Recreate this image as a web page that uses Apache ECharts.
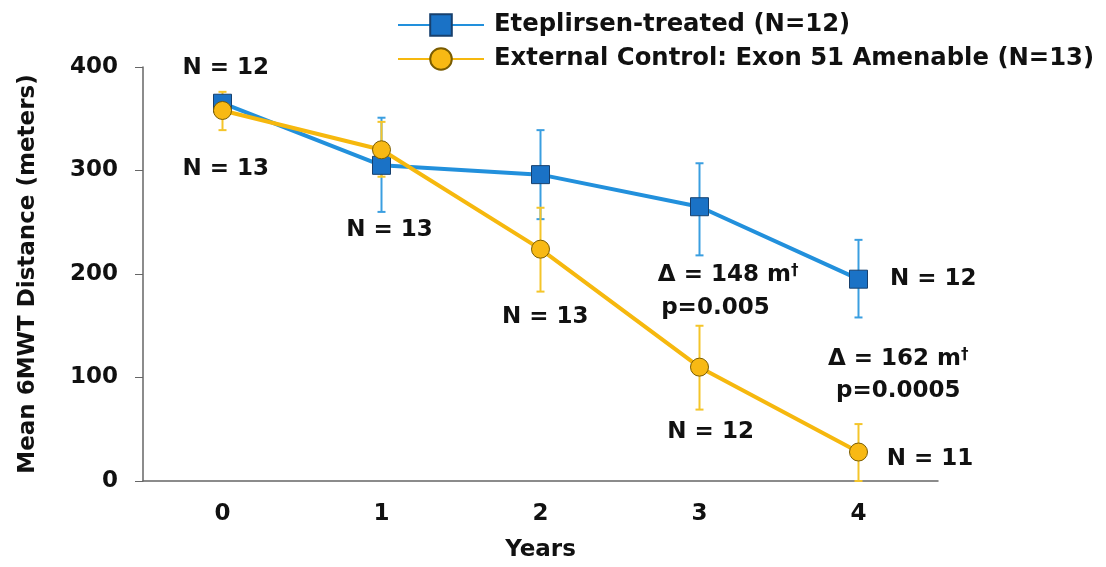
<!DOCTYPE html>
<html><head><meta charset="utf-8">
<script src="https://cdn.jsdelivr.net/npm/echarts@6/dist/echarts.min.js"></script>
<style>html,body{margin:0;padding:0;background:#fff}#c{width:1106px;height:567px}</style>
</head><body><div id="c"></div>
<script>
const years = ['0', '1', '2', '3', '4'];
const seriesNames = ['Eteplirsen-treated (N=12)', 'External Control: Exon 51 Amenable (N=13)'];
const eteMean = [365, 305, 296, 265, 195];
const eteUpper = [372, 351, 339, 307, 233];
const eteLower = [358, 260, 253, 218, 158];
const ctlMean = [358, 320, 224, 110, 28];
const ctlUpper = [376, 347, 264, 150, 55];
const ctlLower = [339, 294, 183, 69, 0];
const yTicks = [0, 100, 200, 300, 400];
// annotation text anchored in data coordinates [year, meters]
const annotations = [
  { x: 0.02, y: 399, text: 'N = 12' },
  { x: 0.02, y: 301, text: 'N = 13' },
  { x: 1.05, y: 242, text: 'N = 13' },
  { x: 2.03, y: 158, text: 'N = 13' },
  { x: 3.18, y: 199, text: '{a|Δ = 148 m}{s|†}' },
  { x: 3.10, y: 167, text: 'p=0.005' },
  { x: 3.07, y: 47, text: 'N = 12' },
  { x: 4.47, y: 195, text: 'N = 12' },
  { x: 4.25, y: 118, text: '{a|Δ = 162 m}{s|†}' },
  { x: 4.25, y: 87, text: 'p=0.0005' },
  { x: 4.45, y: 21, text: 'N = 11' }
];

const BLUE = '#2290dc', BLUE_FILL = '#1a72c6', BLUE_EDGE = '#17406e', BLUE_ERR = '#3a9ee0';
const YEL = '#f6b80e', YEL_FILL = '#f8b914', YEL_EDGE = '#7a5c00', YEL_ERR = '#f4c52a';
const FONT = '"DejaVu Sans", Verdana, sans-serif';
const TXT = '#111';

function errData(lo, hi) { return years.map((y, i) => [i, lo[i], hi[i]]); }
function errRender(color) {
  return function (params, api) {
    const x = api.value(0);
    const lo = api.coord([x, api.value(1)]);
    const hi = api.coord([x, api.value(2)]);
    const cw = 4;
    const st = { stroke: color, lineWidth: 2 };
    return { type: 'group', children: [
      { type: 'line', shape: { x1: lo[0], y1: lo[1], x2: hi[0], y2: hi[1] }, style: st },
      { type: 'line', shape: { x1: hi[0] - cw, y1: hi[1], x2: hi[0] + cw, y2: hi[1] }, style: st },
      { type: 'line', shape: { x1: lo[0] - cw, y1: lo[1], x2: lo[0] + cw, y2: lo[1] }, style: st }
    ]};
  };
}
function annRender(params, api) {
  const p = api.coord([api.value(0), api.value(1)]);
  const a = annotations[params.dataIndex];
  return {
    type: 'text', x: p[0], y: p[1], silent: true,
    style: {
      text: a.text, align: 'center', verticalAlign: 'middle',
      fontFamily: FONT, fontWeight: 'bold', fontSize: 23, fill: TXT,
      rich: {
        a: { fontFamily: FONT, fontWeight: 'bold', fontSize: 23, fill: TXT, color: TXT },
        s: { fontFamily: FONT, fontWeight: 'bold', fontSize: 15, fill: TXT, color: TXT, verticalAlign: 'top' }
      }
    }
  };
}

const chart = echarts.init(document.getElementById('c'), null, { renderer: 'canvas' });
chart.setOption({
  animation: false,
  backgroundColor: '#fff',
  textStyle: { fontFamily: FONT },
  grid: { left: 143, right: 168, top: 67, bottom: 83 },
  legend: {
    orient: 'vertical', left: 392, top: 8,
    itemWidth: 86, itemHeight: 27, itemGap: 10,
    data: seriesNames,
    textStyle: { fontFamily: FONT, fontWeight: 'bold', fontSize: 24.3, color: TXT, padding: [0, 0, 0, 5] }
  },
  xAxis: [{
    type: 'category', data: years, boundaryGap: true,
    name: 'Years', nameLocation: 'middle', nameGap: 58,
    nameTextStyle: { fontFamily: FONT, fontWeight: 'bold', fontSize: 23, color: TXT },
    axisLine: { lineStyle: { color: '#666', width: 1.5 } },
    axisTick: { alignWithLabel: true, length: 10, lineStyle: { color: '#333', width: 2 } },
    axisLabel: { margin: 22, fontFamily: FONT, fontWeight: 'bold', fontSize: 23, color: TXT },
    splitLine: { show: false }
  }, {
    type: 'value', min: -0.5, max: 4.5, show: false
  }],
  yAxis: {
    type: 'value', min: yTicks[0], max: yTicks[yTicks.length - 1], interval: 100,
    name: 'Mean 6MWT Distance (meters)', nameLocation: 'middle', nameGap: 103,
    nameTextStyle: { fontFamily: FONT, fontWeight: 'bold', fontSize: 23, color: TXT },
    axisLine: { show: true, onZero: false, lineStyle: { color: '#666', width: 1.5 } },
    axisTick: { show: true, length: 8, lineStyle: { color: '#666', width: 1 } },
    axisLabel: { margin: 25, fontFamily: FONT, fontWeight: 'bold', fontSize: 23, color: TXT },
    splitLine: { show: false }
  },
  series: [
    { type: 'custom', name: 'eteErr', xAxisIndex: 0, renderItem: errRender(BLUE_ERR), data: errData(eteLower, eteUpper), z: 1, silent: true },
    { type: 'custom', name: 'ctlErr', xAxisIndex: 0, renderItem: errRender(YEL_ERR), data: errData(ctlLower, ctlUpper), z: 1, silent: true },
    {
      type: 'line', name: seriesNames[0], xAxisIndex: 0, data: eteMean, z: 3,
      symbol: 'rect', symbolSize: 18,
      lineStyle: { color: BLUE, width: 4 },
      itemStyle: { color: BLUE_FILL, borderColor: BLUE_EDGE, borderWidth: 1 }
    },
    {
      type: 'line', name: seriesNames[1], xAxisIndex: 0, data: ctlMean, z: 4,
      symbol: 'circle', symbolSize: 18,
      lineStyle: { color: YEL, width: 4 },
      itemStyle: { color: YEL_FILL, borderColor: YEL_EDGE, borderWidth: 1 }
    },
    {
      type: 'custom', name: 'annotations', xAxisIndex: 1, z: 5, silent: true,
      renderItem: annRender,
      data: annotations.map(a => [a.x, a.y])
    }
  ]
});
</script>
</body></html>
